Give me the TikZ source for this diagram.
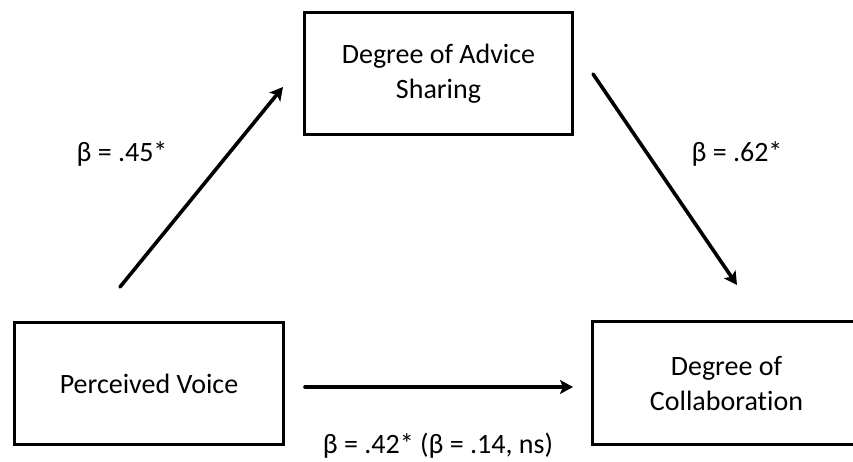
\documentclass[tikz,border=0pt]{standalone}
\usepackage{fontspec}
\setmainfont{Carlito}
\usepackage{tikz}
\usetikzlibrary{positioning}
\usetikzlibrary{arrows.meta}
\tikzstyle{var}=[draw,line width=3.6pt,align=center,inner sep=0pt,
                 font=\fontsize{28}{35}\selectfont]
\tikzstyle{path}=[-{Stealth[length=13pt,width=14pt,inset=3pt]},line width=3.6pt,line cap=round]
\tikzstyle{coef}=[font=\fontsize{28}{35}\selectfont]

\begin{document}
\begin{tikzpicture}[x=1pt,y=-1pt]

\useasboundingbox (0,0) rectangle (853,461);

% Boxes
\node[var,minimum width=268pt,minimum height=122pt] (advice) at (438.5,73.5) {Degree of Advice\\Sharing};
\node[var,minimum width=269pt,minimum height=122pt] (voice) at (149,383.5) {Perceived Voice};
\node[var,minimum width=268pt,minimum height=123pt] (collab) at (726.5,383) {Degree of\\Collaborat\kern0pt ion};

% Arrow ends
\coordinate (a1) at (120,287);
\coordinate (a2) at (283,87);
\coordinate (b1) at (593,74);
\coordinate (b2) at (737,285);
\coordinate (c1) at (305,387);
\coordinate (c2) at (573,387);

% Paths
\draw[path] (a1) -- (a2);
\draw[path] (b1) -- (b2);
\draw[path] (c1) -- (c2);

% Coefficients
\node[coef] (ca) at (122,154) {β = .45*};
\node[coef] (cb) at (737,154) {β = .62*};
\node[coef] (cc) at (438,446) {β = .42* (β = .14, ns)};

\end{tikzpicture}
\end{document}
